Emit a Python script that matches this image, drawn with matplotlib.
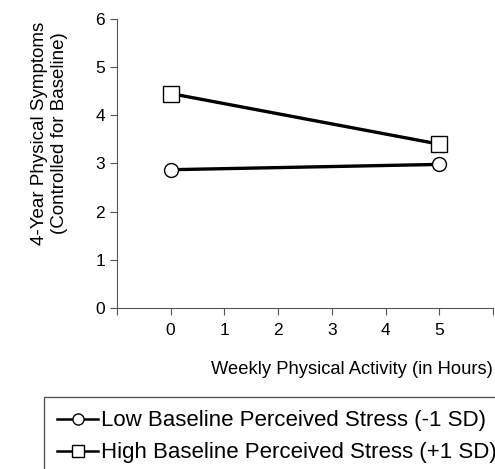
import matplotlib.pyplot as plt

plt.rcParams['font.family'] = ['Liberation Sans', 'DejaVu Sans']

hours = [0, 5]
low_stress = [2.87, 2.98]
high_stress = [4.45, 3.40]
labels = ['Low Baseline Perceived Stress (-1 SD)',
          'High Baseline Perceived Stress (+1 SD)']

fig = plt.figure(figsize=(4.95, 4.69), dpi=100)
ax = fig.add_axes([0.236, 0.343, 0.76, 0.617])

ax.plot(hours, low_stress, color='black', lw=2.4, marker='o', ms=10,
        mfc='white', mec='black', mew=1, label=labels[0])
ax.plot(hours, high_stress, color='black', lw=2.4, marker='s', ms=11,
        mfc='white', mec='black', mew=1, label=labels[1])

ax.set_xlim(-1, 6)
ax.set_ylim(0, 6)
ax.set_xticks(range(-1, 7))
ax.set_xticklabels(['', '0', '1', '2', '3', '4', '5', ''])
ax.set_yticks(range(0, 7))
ax.tick_params(labelsize=12.5, length=5, width=0.8, color='#555555')
ax.tick_params(axis='x', pad=6)
ax.spines['top'].set_visible(False)
ax.spines['right'].set_visible(False)
for s in ['left', 'bottom']:
    ax.spines[s].set_color('#555555')

ax.set_xlabel('Weekly Physical Activity (in Hours)', fontsize=13.2,
              labelpad=16, loc='right')
ax.set_ylabel('4-Year Physical Symptoms\n(Controlled for Baseline)',
              fontsize=13.5)
ax.yaxis.set_label_coords(-0.13, 0.605)

leg = fig.legend(loc='upper left', bbox_to_anchor=(44 / 495, 1 - 397 / 469),
                 fontsize=16, handlelength=1.85, handletextpad=0.1,
                 fancybox=False, edgecolor='#555555', borderpad=0.6,
                 labelspacing=0.5, framealpha=1, borderaxespad=0)
for h in leg.legend_handles:
    h.set_markersize(8)
    h.set_linewidth(1.8)

fig.savefig('out.png', dpi=100)
